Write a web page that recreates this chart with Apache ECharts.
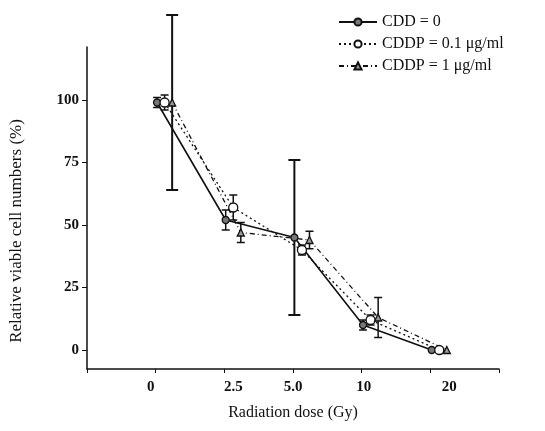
<!DOCTYPE html>
<html><head><meta charset="utf-8">
<script src="https://cdn.jsdelivr.net/npm/echarts@6/dist/echarts.min.js"></script>
<style>html,body{margin:0;padding:0;background:#fff}#c{width:545px;height:431px}</style>
</head><body><div id="c"></div>
<script>
// ---- data ----
const doses = ['0', '2.5', '5.0', '10', '20'];
const seriesNames = ['CDD = 0', 'CDDP = 0.1 μg/ml', 'CDDP = 1 μg/ml'];
const cdd0 = [99, 52, 45, 10, 0];
const cddp01 = [99, 57, 40, 12, 0];
const cddp1 = [99, 47, 44, 13, 0];
const errCdd0 = [2, 4, 31, 2, 0];
const errCddp01 = [3, 5, 2, 2, 0];
const errCddp1 = [35, 4, 3.5, 8, 0];
const yTicks = [0, 25, 50, 75, 100];

// ---- styling ----
const FONT = 'Liberation Serif';
const offsets = [0.02, 0.13, 0.24]; // horizontal stagger of the three series (display only)
const lineTypes = ['solid', [2, 3], [5, 3, 1, 3]];
const symbols = ['circle', 'emptyCircle', 'triangle'];
const symColors = ['#777', '#fff', '#999'];
const values = [cdd0, cddp01, cddp1];
const errs = [errCdd0, errCddp01, errCddp1];
const labelPad = [[0,10,0,0],[0,0,0,18],[0,0,0,0],[0,0,0,4],[0,0,0,38]];

const series = [];
values.forEach((vals, s) => {
  series.push({
    name: seriesNames[s], type: 'line',
    data: vals.map((v, i) => [i + offsets[s], v]),
    symbol: symbols[s] === 'emptyCircle' ? 'circle' : symbols[s],
    symbolSize: s === 1 ? 9 : 7,
    lineStyle: { color: '#111', width: s === 0 ? 1.6 : 1.3, type: lineTypes[s] },
    itemStyle: { color: symColors[s], borderColor: '#111', borderWidth: 1.3 },
    z: 3
  });
  series.push({
    type: 'custom', silent: true, z: 2,
    data: vals.map((v, i) => [i + offsets[s], v, errs[s][i]]),
    renderItem: (params, api) => {
      const x = api.value(0), v = api.value(1), e = api.value(2);
      if (!e) return null;
      const top = api.coord([x, v + e]);
      const bot = api.coord([x, v - e]);
      const w = e > 10 ? 6 : 4;
      const st = { stroke: '#111', lineWidth: e > 10 ? 2 : 1.5 };
      return { type: 'group', children: [
        { type: 'line', shape: { x1: top[0], y1: top[1], x2: bot[0], y2: bot[1] }, style: st },
        { type: 'line', shape: { x1: top[0]-w, y1: top[1], x2: top[0]+w, y2: top[1] }, style: st },
        { type: 'line', shape: { x1: bot[0]-w, y1: bot[1], x2: bot[0]+w, y2: bot[1] }, style: st }
      ]};
    }
  });
});

const chart = echarts.init(document.getElementById('c'));
chart.setOption({
  animation: false,
  backgroundColor: '#fff',
  textStyle: { fontFamily: FONT },
  grid: { left: 87, right: 46, top: 47, bottom: 62 },
  legend: {
    data: seriesNames, orient: 'vertical', left: 333, top: 9,
    itemWidth: 38, itemHeight: 9, itemGap: 6,
    textStyle: { fontFamily: FONT, fontSize: 16, color: '#111' }
  },
  xAxis: {
    type: 'value', min: -1, max: 5, interval: 1,
    splitLine: { show: false },
    axisLine: { onZero: false, lineStyle: { color: '#111', width: 1.5 } },
    axisTick: { show: true, length: 4, lineStyle: { color: '#111' } },
    axisLabel: {
      margin: 11, fontFamily: FONT, fontSize: 15, fontWeight: 'bold', color: '#111',
      formatter: v => (v >= 0 && v < doses.length) ? '{d' + v + '|' + doses[v] + '}' : '',
      rich: Object.fromEntries(doses.map((d, i) => ['d' + i, { padding: labelPad[i], fontFamily: FONT, fontSize: 15, fontWeight: 'bold', color: '#111' }]))
    },
    name: 'Radiation dose (Gy)', nameLocation: 'middle', nameGap: 36,
    nameTextStyle: { fontFamily: FONT, fontSize: 16, color: '#111' }
  },
  yAxis: {
    type: 'value', min: -7.6, max: 121.2,
    splitLine: { show: false },
    axisLine: { show: true, onZero: false, lineStyle: { color: '#111', width: 1.5 } },
    axisTick: { show: true, length: 5, customValues: yTicks, lineStyle: { color: '#111' } },
    axisLabel: { customValues: yTicks, margin: 8, fontFamily: FONT, fontSize: 15, fontWeight: 'bold', color: '#111' },
    name: 'Relative viable cell numbers (%)', nameLocation: 'middle', nameGap: 62,
    nameTextStyle: { fontFamily: FONT, fontSize: 17, color: '#111', padding: [0, 46, 0, 0] }
  },
  series
});
</script></body></html>
